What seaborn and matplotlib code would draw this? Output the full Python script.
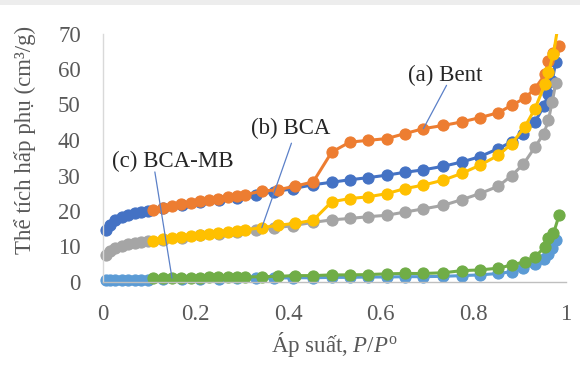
import matplotlib
matplotlib.use("Agg")
import matplotlib.pyplot as plt
from matplotlib.patches import Rectangle
import pandas as pd
import seaborn as sns

# Relative pressure points of the adsorption branch (shared by all samples)
ads_x = [0.006, 0.015, 0.026, 0.040, 0.055, 0.069, 0.083, 0.097,
         0.13, 0.17, 0.21, 0.25, 0.29, 0.33, 0.37, 0.41,
         0.454, 0.494, 0.533, 0.573, 0.613, 0.652, 0.692, 0.735, 0.775,
         0.814, 0.854, 0.883, 0.908, 0.933, 0.952, 0.962, 0.970, 0.978]

# Relative pressure points of the desorption branch (high -> low)
des_x = [0.985, 0.973, 0.962, 0.955, 0.933, 0.911, 0.883, 0.854, 0.814, 0.775,
         0.735, 0.692, 0.652, 0.613, 0.573, 0.533, 0.494, 0.454, 0.415, 0.379,
         0.343, 0.307, 0.289, 0.269, 0.249, 0.229, 0.209, 0.189, 0.169, 0.149,
         0.129, 0.109]

# Adsorbed volume (cm3/g)
bent_ads = [14.6, 16.0, 17.4, 18.4, 18.8, 19.3, 19.6, 20.0,
            20.8, 21.6, 22.4, 23.1, 23.8, 24.6, 25.4, 26.3,
            27.4, 28.1, 28.8, 29.4, 30.1, 30.9, 31.6, 32.6, 33.8,
            35.3, 37.6, 39.5, 41.8, 45.1, 49.5, 53.0, 56.5, 62.0]
bent_des = [66.6, 64.5, 62.2, 58.5, 54.5, 51.8, 49.8, 47.7, 46.3, 45.1,
            44.1, 43.2, 41.8, 40.4, 39.9, 39.4, 36.6, 28.2, 27.0, 26.0,
            25.6, 24.6, 24.3, 23.9, 23.5, 23.1, 22.7, 22.3, 21.9, 21.4,
            20.9, 20.3]

bca_ads = [7.6, 8.7, 9.6, 10.2, 10.6, 11.0, 11.3, 11.5,
           11.9, 12.5, 13.1, 13.6, 14.1, 14.6, 15.2, 15.9,
           16.8, 17.5, 17.9, 18.4, 18.8, 19.7, 20.6, 21.6, 23.2,
           24.9, 27.0, 30.0, 33.2, 38.0, 41.8, 45.5, 50.7, 56.0]
bca_des = [74.0, 64.3, 59.1, 55.9, 48.8, 43.7, 39.0, 35.7, 32.9, 30.6,
           28.7, 27.3, 26.3, 24.9, 24.0, 23.5, 22.6, 17.4, 16.5, 16.0,
           15.3, 14.7, 14.4, 14.1, 13.8, 13.5, 13.2, 12.9, 12.6, 12.3,
           12.0, 11.6]

mb_ads = [0.6, 0.6, 0.6, 0.7, 0.7, 0.7, 0.7, 0.7,
          0.8, 0.8, 0.9, 0.9, 1.0, 1.0, 1.1, 1.2,
          1.2, 1.3, 1.3, 1.4, 1.4, 1.5, 1.5, 1.6, 1.8,
          2.0, 2.4, 2.9, 3.9, 5.0, 6.6, 7.8, 9.5, 11.8]
mb_des = [18.8, 13.7, 12.3, 9.9, 7.1, 5.7, 4.8, 3.9, 3.4, 3.2,
          2.6, 2.4, 2.4, 2.3, 2.1, 2.0, 2.0, 1.8, 1.8, 1.6,
          1.5, 1.4, 1.4, 1.3, 1.3, 1.3, 1.2, 1.2, 1.1, 1.1,
          1.0, 1.0]

x_ticks = [0, 0.2, 0.4, 0.6, 0.8, 1.0]
x_tick_labels = ["0", "0.2", "0.4", "0.6", "0.8", "1"]
y_ticks = [0, 10, 20, 30, 40, 50, 60, 70]

sns.set_theme(style="white")
plt.rcParams["font.family"] = ["Liberation Serif", "DejaVu Serif"]
plt.rcParams["mathtext.fontset"] = "custom"
plt.rcParams["mathtext.rm"] = "Liberation Serif"
plt.rcParams["mathtext.it"] = "Liberation Serif:italic"

fig = plt.figure(figsize=(5.8, 3.7), dpi=100)
ax = fig.add_axes([103 / 580, 1 - 282 / 370, 463 / 580, 248.5 / 370])

# (x, y, colour, clip) for each branch, in drawing order
branches = [
    (ads_x, bent_ads, "#4472C4", False),
    (des_x, bent_des, "#ED7D31", False),
    (ads_x, bca_ads, "#A5A5A5", False),
    (des_x, bca_des, "#FFC000", True),
    (ads_x, mb_ads, "#5B9BD5", False),
    (des_x, mb_des, "#70AD47", False),
]
for xs, ys, color, clip in branches:
    df = pd.DataFrame({"p": xs, "v": ys})
    sns.lineplot(data=df, x="p", y="v", ax=ax, color=color, marker="o",
                 markersize=8, markeredgewidth=0.8, markeredgecolor=color,
                 linewidth=2.2, sort=False, estimator=None, errorbar=None,
                 clip_on=clip, legend=False)

ax.set_xlim(0, 1)
ax.set_ylim(0, 70)
ax.set_xticks(x_ticks)
ax.set_xticklabels(x_tick_labels)
ax.set_yticks(y_ticks)
ax.tick_params(length=0, pad=16, labelsize=16.5, labelcolor="#595959")

for side in ("top", "right"):
    ax.spines[side].set_visible(False)
ax.spines["left"].set_color("#D9D9D9")
ax.spines["bottom"].set_color("#BFBFBF")
ax.spines["left"].set_linewidth(1.0)
ax.spines["bottom"].set_linewidth(1.0)

ax.set_xlabel("Áp suất, $P$/$P^{\\mathrm{o}}$", fontsize=16.5, color="#595959")
ax.xaxis.label.set_va("center")
ax.xaxis.set_label_coords(0.501, -0.25)
ax.set_ylabel("Thể tích hấp phụ (cm³/g)", fontsize=16.5, color="#595959")
ax.yaxis.label.set_va("center")
ax.yaxis.set_label_coords(-0.168, 0.571)

# Sample labels with leader lines to their isotherms
lead = dict(arrowstyle="-", color="#5B80C8", lw=0.9, shrinkA=0, shrinkB=0)
labels = [
    ("(a) Bent", (0.739, 58.2), (0.742, 55.4), (des_x[11], bent_des[11])),
    ("(b) BCA", (0.406, 43.3), (0.407, 39.1), (des_x[20], bca_des[20])),
    ("(c) BCA-MB", (0.151, 34.0), (0.112, 31.0), (des_x[29], mb_des[29])),
]
for text, pos, start, end in labels:
    ax.annotate("", xy=end, xytext=start, arrowprops=lead, annotation_clip=False)
    ax.text(pos[0], pos[1], text, fontsize=16.5, color="#262626",
            ha="center", va="center")

fig.add_artist(Rectangle((0, 1 - 5 / 370), 1, 5 / 370, transform=fig.transFigure,
                         color="#EDEDED", lw=0))

fig.savefig("out.png", dpi=100)
